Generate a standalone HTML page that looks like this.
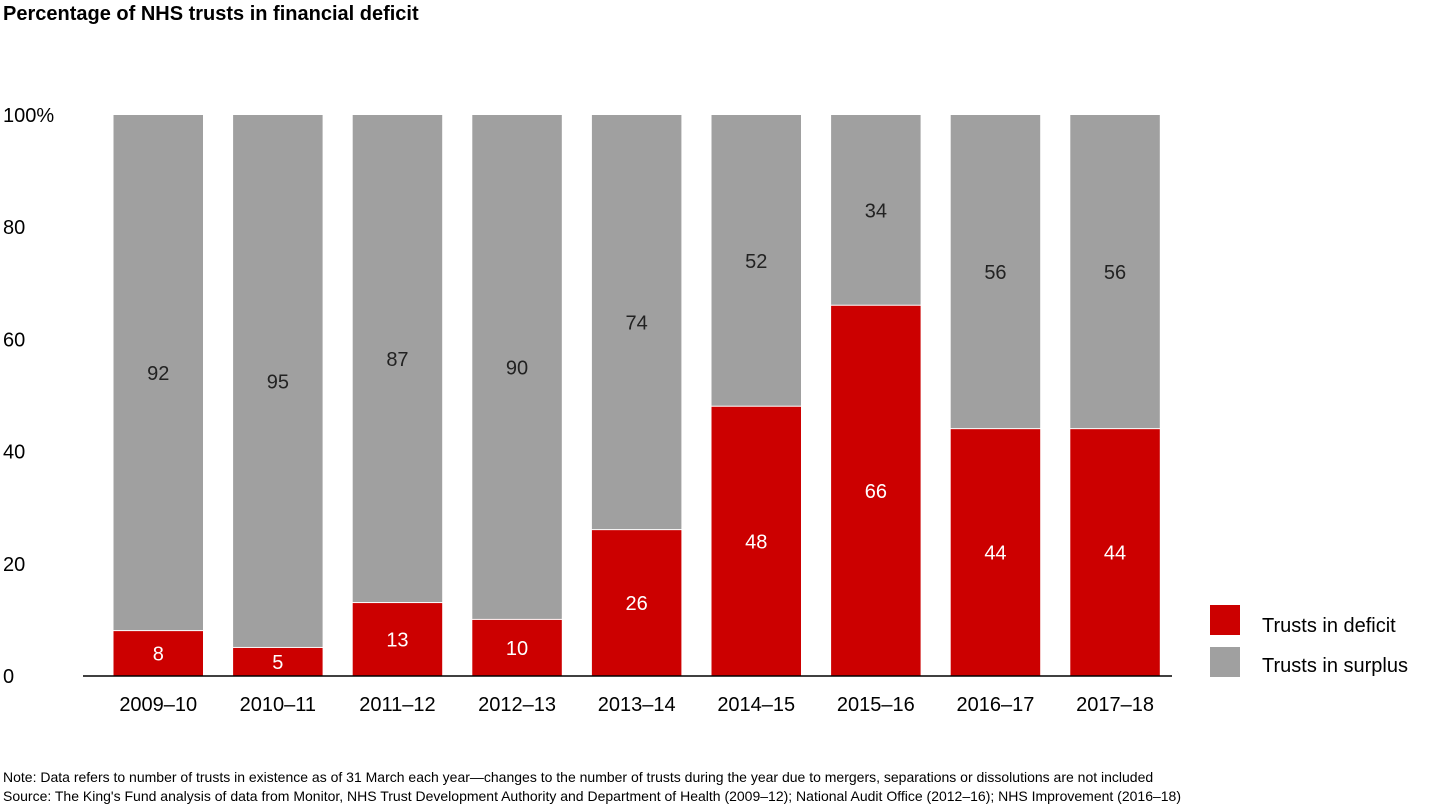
<!DOCTYPE html>
<html><head><meta charset="utf-8"><style>
body{margin:0;background:#fff;font-family:"Liberation Sans",Arial,sans-serif;}
svg{display:block}
</style></head><body>
<svg width="1440" height="810" xmlns="http://www.w3.org/2000/svg" id="chart">
<text x="3" y="20" font-size="20" font-weight="bold" fill="#000">Percentage of NHS trusts in financial deficit</text>
<g id="yaxis"></g>
<g id="bars"></g>
<line x1="83" y1="676" x2="1172" y2="676" stroke="#000" stroke-width="1.5"/>
<g id="xaxis"></g>
<g>
<rect x="1210" y="605" width="30" height="30" fill="#cc0000"/>
<text x="1262" y="632" font-size="20" fill="#000">Trusts in deficit</text>
<rect x="1210" y="647" width="30" height="30" fill="#a0a0a0"/>
<text x="1262" y="672" font-size="20" fill="#000">Trusts in surplus</text>
</g>
<text x="3" y="782" font-size="14" fill="#000">Note: Data refers to number of trusts in existence as of 31 March each year—changes to the number of trusts during the year due to mergers, separations or dissolutions are not included</text>
<text x="3" y="801" font-size="14" fill="#000">Source: The King's Fund analysis of data from Monitor, NHS Trust Development Authority and Department of Health (2009–12); National Audit Office (2012–16); NHS Improvement (2016–18)</text>
</svg>
<script>
const categories=["2009–10","2010–11","2011–12","2012–13","2013–14","2014–15","2015–16","2016–17","2017–18"];
const deficit=[8,5,13,10,26,48,66,44,44];
const surplus=[92,95,87,90,74,52,34,56,56];
const yTicks=[0,20,40,60,80,100];
const yTickLabels=["0","20","40","60","80","100%"];
const NS="http://www.w3.org/2000/svg";
const y0=676,y100=115,x0=113.5,pitch=119.6,bw=89.5;
const y=v=>y0-(y0-y100)*v/100;
const xc=i=>x0+bw/2+i*pitch;
function mk(tag,attrs,parent){const e=document.createElementNS(NS,tag);for(const k in attrs)e.setAttribute(k,attrs[k]);parent.appendChild(e);return e;}
const ya=document.getElementById('yaxis'),bars=document.getElementById('bars'),xa=document.getElementById('xaxis');
yTicks.forEach((t,i)=>{const e=mk('text',{x:3,y:y(t)+7,'font-size':20,fill:'#000'},ya);


e.textContent=yTickLabels[i];});
categories.forEach((c,i)=>{
const d=deficit[i],s=surplus[i],cx=xc(i);
const r1=mk('rect',{x:cx-bw/2,y:y(d),width:bw,height:y(0)-y(d),fill:'#cc0000'},bars);


const r2=mk('rect',{x:cx-bw/2,y:y(d+s),width:bw,height:y(d)-y(d+s)-1,fill:'#a0a0a0'},bars);


const t1=mk('text',{x:cx,y:(y(0)+y(d))/2+7,'font-size':20,fill:'#fff','text-anchor':'middle'},bars);


t1.textContent=d;
const t2=mk('text',{x:cx,y:(y(d)+y(d+s))/2+7,'font-size':20,fill:'#222','text-anchor':'middle'},bars);


t2.textContent=s;
const xl=mk('text',{x:cx,y:711,'font-size':20,fill:'#000','text-anchor':'middle'},xa);


xl.textContent=c;
});
</script>
</body></html>
